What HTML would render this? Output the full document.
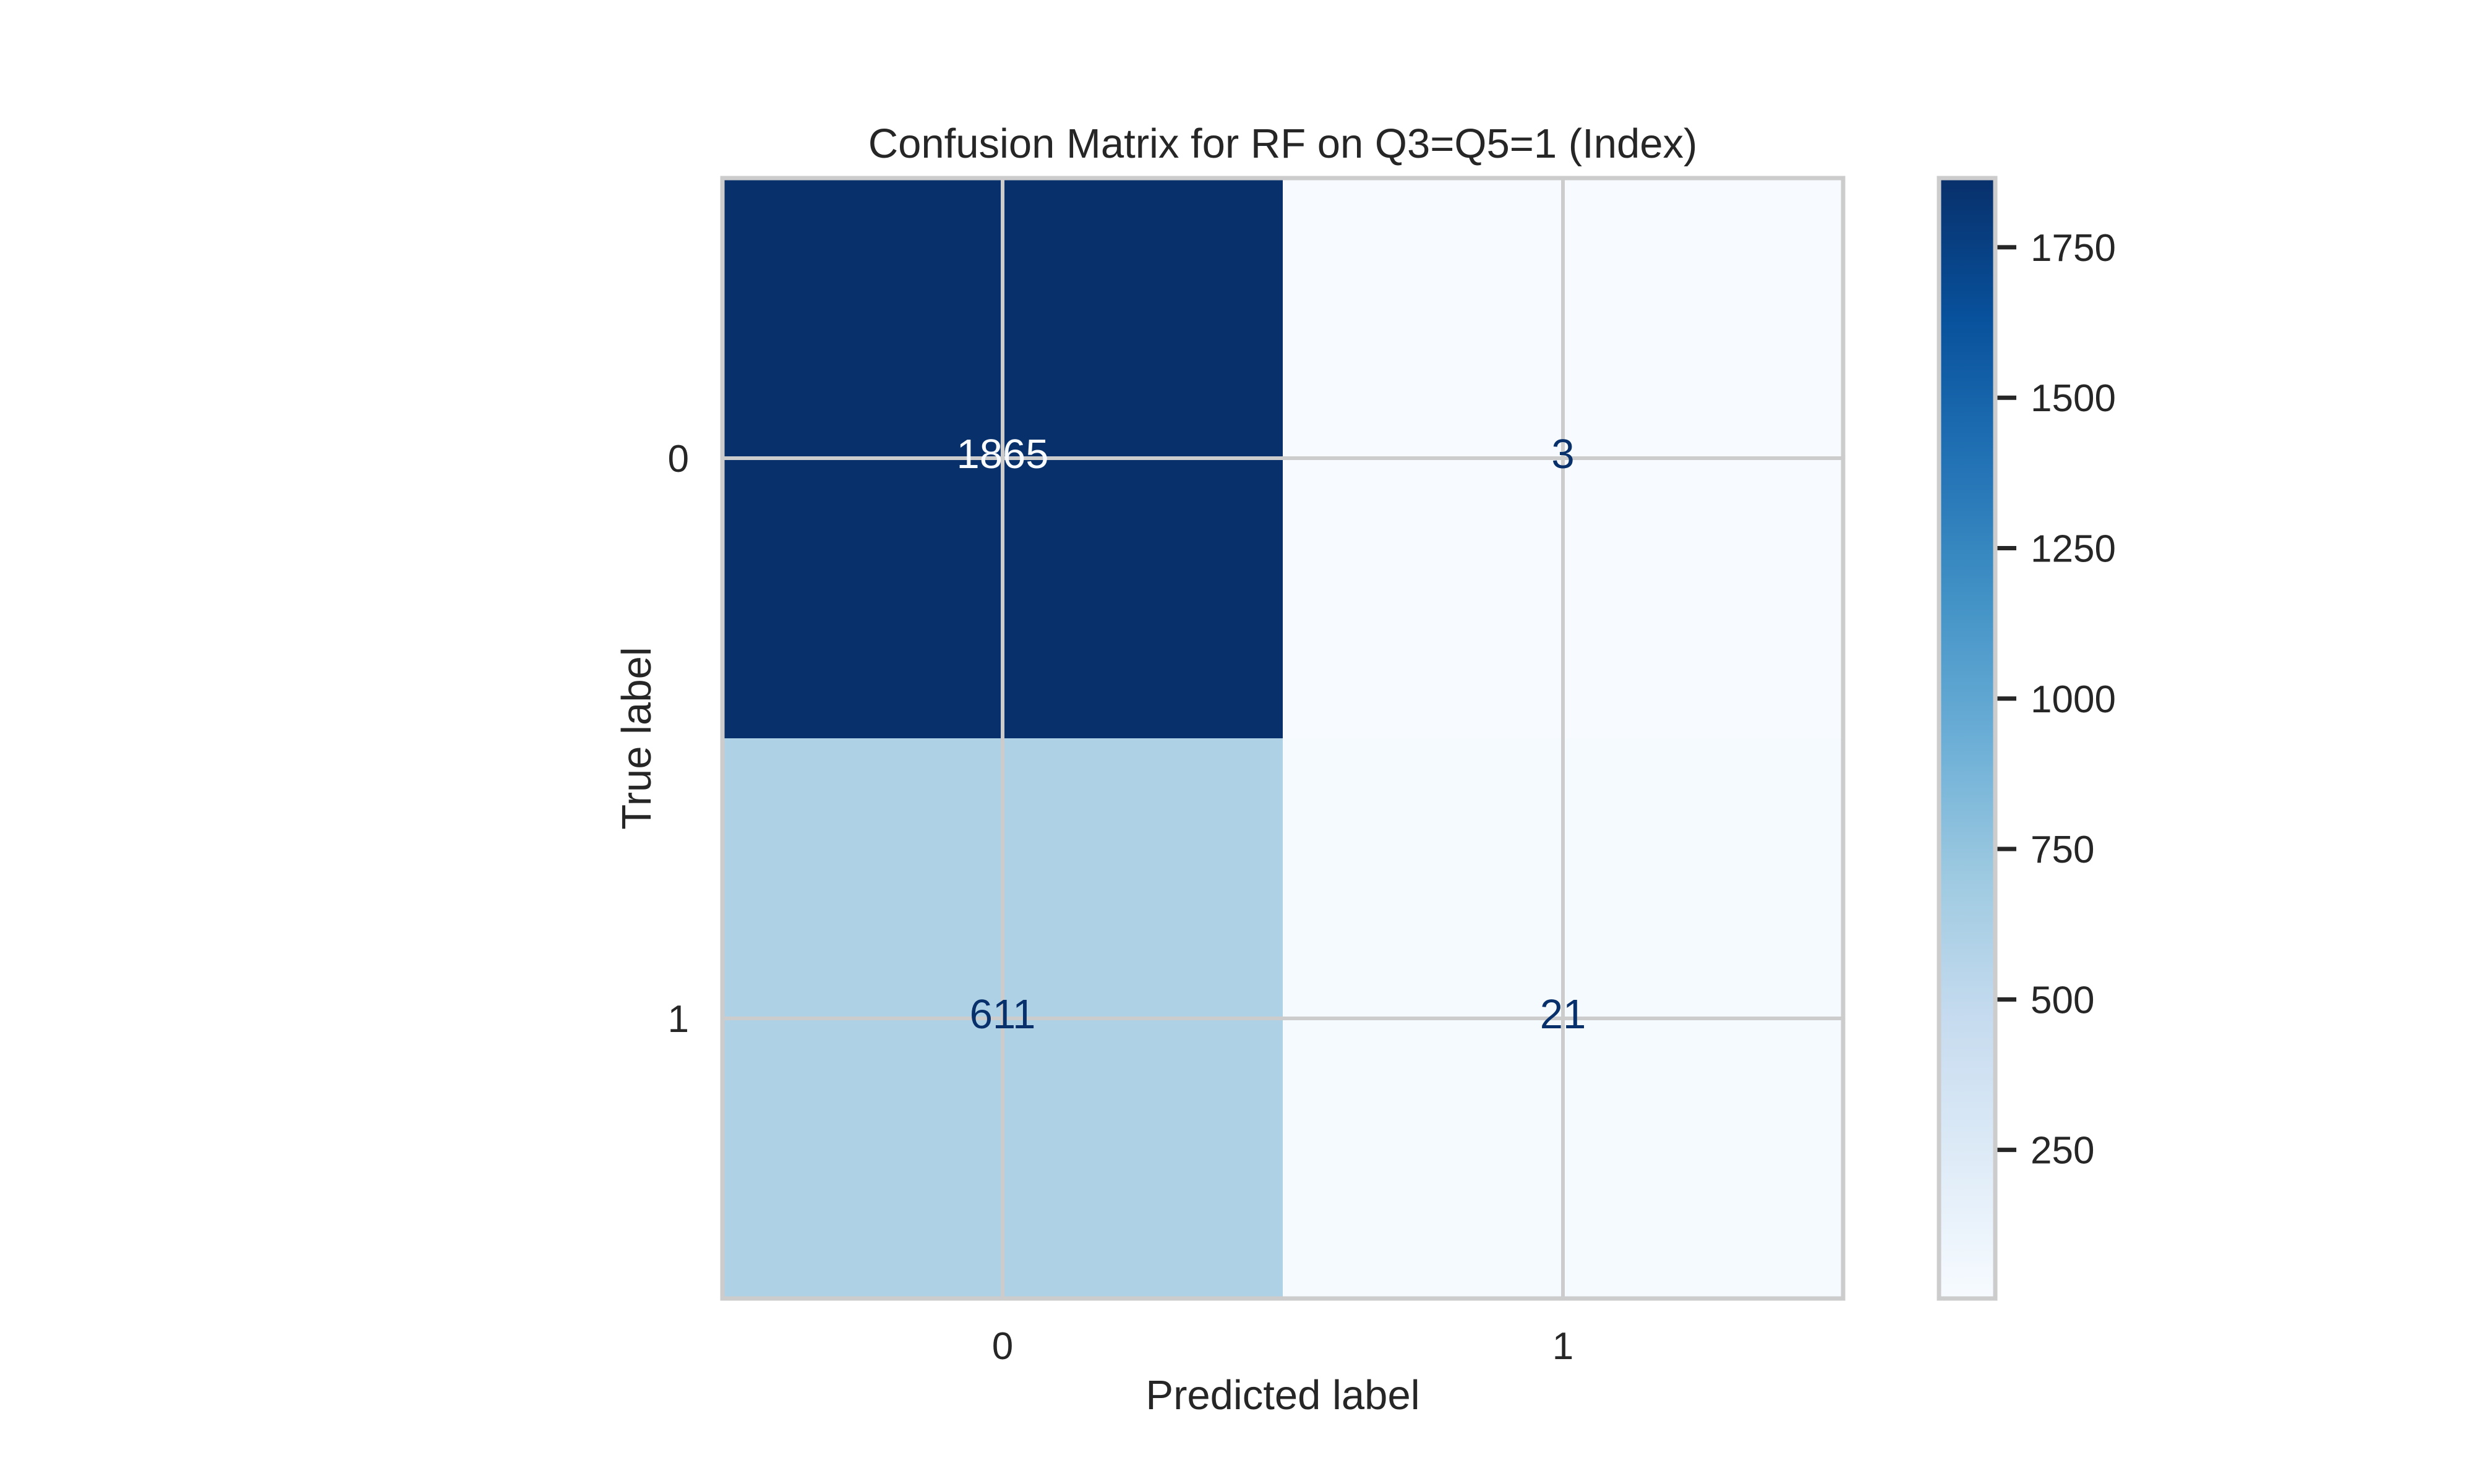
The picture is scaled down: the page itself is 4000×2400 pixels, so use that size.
<!DOCTYPE html>
<html><head><meta charset="utf-8">
<style>
html,body{margin:0;padding:0;background:#fff;}
svg{display:block;font-family:"Liberation Sans",Arial,sans-serif;}
</style></head>
<body>
<svg id="chart" width="4000" height="2400" viewBox="0 0 4000 2400" xmlns="http://www.w3.org/2000/svg">
<defs>
<linearGradient id="bluesGrad" x1="0" y1="1" x2="0" y2="0">
<stop offset="0" stop-color="#f7fbff"/><stop offset="0.125" stop-color="#deebf7"/>
<stop offset="0.25" stop-color="#c6dbef"/><stop offset="0.375" stop-color="#9ecae1"/>
<stop offset="0.5" stop-color="#6baed6"/><stop offset="0.625" stop-color="#4292c6"/>
<stop offset="0.75" stop-color="#2171b5"/><stop offset="0.875" stop-color="#08519c"/>
<stop offset="1" stop-color="#08306b"/>
</linearGradient>
</defs>
<rect width="4000" height="2400" fill="#fff"/>
<text x="2074" y="255" font-size="67" fill="#262626" text-anchor="middle">Confusion Matrix for RF on Q3=Q5=1 (Index)</text>
<text x="2074" y="2279" font-size="67" fill="#262626" text-anchor="middle">Predicted label</text>
<text transform="translate(1052,1194) rotate(-90)" font-size="67" fill="#262626" text-anchor="middle">True label</text>
<g id="cells"></g>
<g id="grid"></g>
<g id="annots"></g>
<g id="ticks"></g>
<rect x="1168" y="288" width="1812" height="1812" fill="none" stroke="#cccccc" stroke-width="7"/>
<rect x="3135" y="288" width="91" height="1812" fill="url(#bluesGrad)"/>
<g id="cbticks"></g>
<rect x="3135" y="288" width="91" height="1812" fill="none" stroke="#cccccc" stroke-width="7"/>
</svg>
<script>
const trueLabels = ["0", "1"];
const predLabels = ["0", "1"];
const row0 = [1865, 3];
const row1 = [611, 21];
const cbTickValues = [250, 500, 750, 1000, 1250, 1500, 1750];
const cbTickLabels = ["250", "500", "750", "1000", "1250", "1500", "1750"];

const NS = "http://www.w3.org/2000/svg";
const L = 1168, T = 288, W = 1812, H = 1812;
const matrix = [row0, row1];
const allVals = row0.concat(row1);
const vmin = Math.min(...allVals), vmax = Math.max(...allVals);
const nC = predLabels.length, nR = trueLabels.length;
const cw = W / nC, ch = H / nR;
function xPos(j) { return L + cw * (j + 0.5); }
function yPos(i) { return T + ch * (i + 0.5); }
const cbT = 288, cbB = 2100;
function cbY(v) { return cbB - (v - vmin) / (vmax - vmin) * (cbB - cbT); }

const stops = [[247,251,255],[222,235,247],[198,219,239],[158,202,225],[107,174,214],[66,146,198],[33,113,181],[8,81,156],[8,48,107]];
function blues(t) {
  t = Math.max(0, Math.min(1, t));
  const p = t * 8, k = Math.min(7, Math.floor(p)), f = p - k;
  const c = stops[k].map((a, idx) => Math.round(a + (stops[k+1][idx] - a) * f));
  return "rgb(" + c.join(",") + ")";
}
function mk(tag, attrs, parent) {
  const e = document.createElementNS(NS, tag);
  for (const k in attrs) e.setAttribute(k, attrs[k]);
  parent.appendChild(e);
  return e;
}
const gC = document.getElementById("cells"), gG = document.getElementById("grid"),
      gA = document.getElementById("annots"), gT = document.getElementById("ticks"),
      gCB = document.getElementById("cbticks");

for (let i = 0; i < nR; i++) {
  for (let j = 0; j < nC; j++) {
    const v = matrix[i][j];
    const t = (v - vmin) / (vmax - vmin);
    const r = mk("rect", {x: L + cw * j, y: T + ch * i, width: cw + 0.5, height: ch + 0.5, fill: blues(t)}, gC);
    
    
    const tx = mk("text", {x: xPos(j), y: yPos(i) + 16, "font-size": 67, "text-anchor": "middle", fill: t > 0.5 ? "#f7fbff" : "#08306b"}, gA);
    tx.textContent = String(v);
    
    
  }
}
for (let j = 0; j < nC; j++) {
  const ln = mk("line", {x1: xPos(j), x2: xPos(j), y1: T, y2: T + H, stroke: "#cccccc", "stroke-width": 6}, gG);
  
  
  const tl = mk("text", {x: xPos(j), y: 2198, "font-size": 62, "text-anchor": "middle", fill: "#262626"}, gT);
  tl.textContent = predLabels[j];
  
  
}
for (let i = 0; i < nR; i++) {
  const ln = mk("line", {y1: yPos(i), y2: yPos(i), x1: L, x2: L + W, stroke: "#cccccc", "stroke-width": 6}, gG);
  
  
  const tl = mk("text", {x: 1114, y: yPos(i) + 22, "font-size": 62, "text-anchor": "end", fill: "#262626"}, gT);
  tl.textContent = trueLabels[i];
  
  
}
for (let k = 0; k < cbTickValues.length; k++) {
  const y = cbY(cbTickValues[k]);
  const tk = mk("line", {x1: 3229, x2: 3260, y1: y, y2: y, stroke: "#262626", "stroke-width": 7}, gCB);
  
  
  const tl = mk("text", {x: 3283, y: y + 22, "font-size": 62, fill: "#262626"}, gCB);
  tl.textContent = cbTickLabels[k];
  
  
}
</script>
</body></html>
